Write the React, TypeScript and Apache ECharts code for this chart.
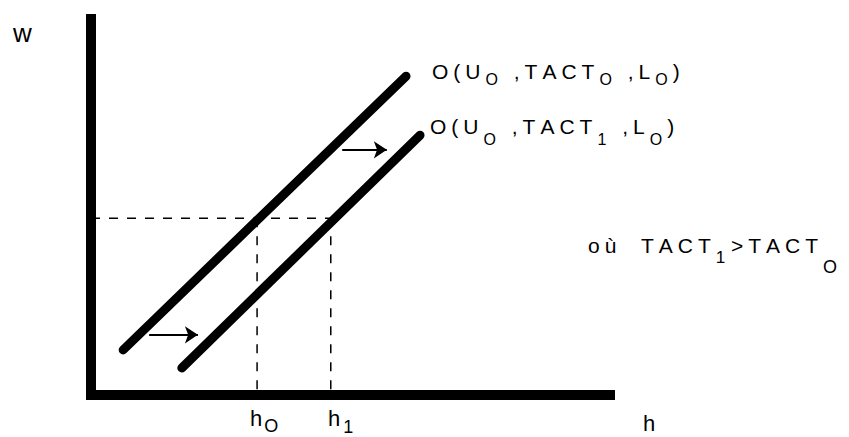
import React, { useEffect, useRef } from "react";
import * as echarts from "echarts";

// Conceptual data (arbitrary units on both axes)
const axisRange = [0, 10];
const curveTACT0 = [[0.62, 1.2], [6.07, 8.48]];
const curveTACT1 = [[1.75, 0.72], [6.34, 6.91]];
const w0 = 4.7;
const h0 = 3.2;
const h1 = 4.62;
const shiftArrowLow = [[1.12, 1.6], [2.06, 1.6]];
const shiftArrowHigh = [[4.84, 6.52], [5.7, 6.52]];

const FONT = "'Liberation Sans', Arial, Helvetica, sans-serif";

type Part = [string, string]; // [text, style key]

export default function App() {
  const ref = useRef<HTMLDivElement>(null);
  useEffect(() => {
    document.body.style.margin = "0";
    if (!ref.current) return;
    const chart = echarts.init(ref.current, null, { renderer: "svg" });
    const black = "#000";
    const thick = { color: black, width: 9, cap: "round" as const };
    const dashed = { color: black, width: 1.5, type: [9, 9] as any };

    const tok = (size: number, padTop: number, ls: number) => ({
      fontSize: size,
      lineHeight: size,
      padding: [padTop, ls, 0, 0],
      fontFamily: FONT,
      color: black,
    });

    // Build spaced rich text: every character becomes its own token.
    const spaced = (
      x: number,
      y: number,
      parts: Part[],
      size: number,
      rich: Record<string, any>
    ) => {
      let text = "";
      parts.forEach(([s, k]) => {
        for (const ch of s) {
          text += `{${k}|${ch === " " ? "\u00a0" : ch}}`;
        }
      });
      return {
        type: "text",
        x,
        y,
        silent: true,
        style: {
          text,
          fontSize: size,
          fontFamily: FONT,
          fill: black,
          align: "left",
          verticalAlign: "middle",
          rich,
        },
      };
    };

    chart.setOption({
      animation: false,
      backgroundColor: "#fff",
      grid: { left: 91, right: 239, top: 19, bottom: 42, containLabel: false },
      xAxis: {
        type: "value",
        min: axisRange[0],
        max: axisRange[1],
        axisLine: { show: true, lineStyle: { color: black, width: 10, cap: "square" } },
        axisTick: { show: false },
        axisLabel: { show: false },
        splitLine: { show: false },
      },
      yAxis: {
        type: "value",
        min: axisRange[0],
        max: axisRange[1],
        axisLine: { show: true, lineStyle: { color: black, width: 10, cap: "square" } },
        axisTick: { show: false },
        axisLabel: { show: false },
        splitLine: { show: false },
      },
      series: [
        { type: "line", data: [[0, w0], [h1, w0]], symbol: "none", lineStyle: dashed, z: 1 },
        { type: "line", data: [[h0, w0], [h0, 0]], symbol: "none", lineStyle: dashed, z: 1 },
        { type: "line", data: [[h1, w0], [h1, 0]], symbol: "none", lineStyle: dashed, z: 1 },
        { type: "line", data: curveTACT0, symbol: "none", lineStyle: thick, z: 3 },
        { type: "line", data: curveTACT1, symbol: "none", lineStyle: thick, z: 3 },
        {
          type: "lines",
          coordinateSystem: "cartesian2d",
          symbol: ["none", "arrow"],
          symbolSize: [9, 13],
          lineStyle: { color: black, width: 2, opacity: 1, curveness: 0 },
          data: [{ coords: shiftArrowLow }, { coords: shiftArrowHigh }],
          z: 4,
        },
      ],
      graphic: [
        spaced(13, 33, [["w", "m"]], 26, { m: tok(26, 0, 0) }),
        spaced(643, 423, [["h", "m"]], 22, { m: tok(22, 0, 0) }),
        spaced(250, 418, [["h", "m"], ["O", "s"]], 22, { m: tok(22, 0, 2), s: tok(18, 16, 0) }),
        spaced(328, 418, [["h", "m"], ["1", "s"]], 22, { m: tok(22, 0, 3), s: tok(18, 18, 0) }),
        spaced(
          432,
          71,
          [["O(U", "m"], ["O", "s"], [" ,TACT", "m"], ["O", "s"], [" ,L", "m"], ["O", "s"], [")", "m"]],
          21,
          { m: tok(21, 0, 5), s: tok(16, 16, 5) }
        ),
        spaced(
          430,
          126,
          [["O(U", "m"], ["O", "s"], [" ,TACT", "m"], ["1", "s"], [" ,L", "m"], ["O", "s"], [")", "m"]],
          21,
          { m: tok(21, 0, 5), s: tok(16, 26, 5) }
        ),
        spaced(
          588,
          245,
          [["où", "m"], ["  ", "g"], ["TACT", "m"], ["1", "a"], [" ", "g2"], [">", "m"], ["TACT", "m"], ["O", "b"]],
          21,
          {
            m: tok(21, 0, 5),
            g: tok(21, 0, 4),
            g2: tok(6, 0, 0),
            a: tok(17, 24, 4),
            b: tok(18, 44, 0),
          }
        ),
      ],
    });
    return () => chart.dispose();
  }, []);
  return <div ref={ref} style={{ width: 849, height: 437 }} />;
}
